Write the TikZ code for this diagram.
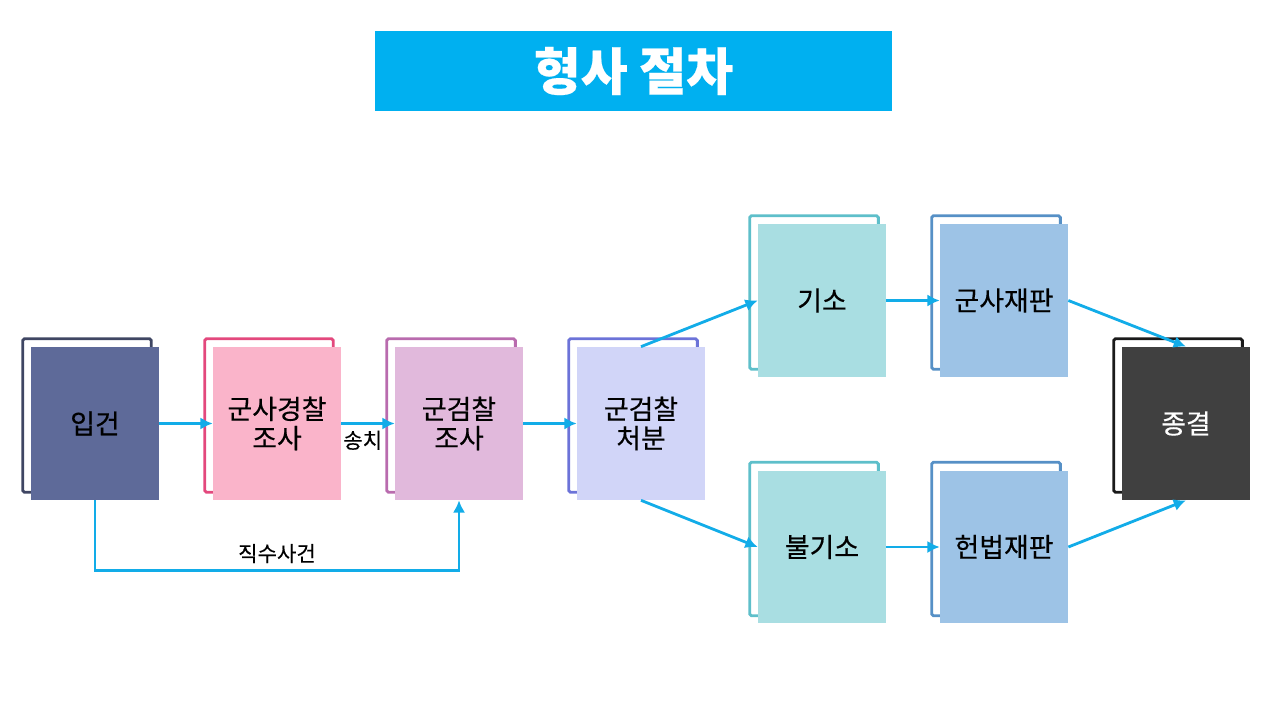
\documentclass[tikz,border=0pt]{standalone}
\usepackage{fontspec}
\setmainfont{Noto Sans CJK KR}[FakeBold=0.4]
\usetikzlibrary{arrows.meta,backgrounds}

\definecolor{titleblue}{HTML}{00B0F0}
\definecolor{flowblue}{HTML}{12ACE8}
\definecolor{ipfill}{HTML}{5E6A99}
\definecolor{ipline}{HTML}{3F4663}
\definecolor{pofill}{HTML}{FAB4CA}
\definecolor{poline}{HTML}{E3487D}
\definecolor{prfill}{HTML}{E1B9DC}
\definecolor{prline}{HTML}{B96BAE}
\definecolor{defill}{HTML}{D1D5F8}
\definecolor{deline}{HTML}{6C73D8}
\definecolor{infill}{HTML}{A9DEE2}
\definecolor{inline}{HTML}{5EBFCA}
\definecolor{trfill}{HTML}{9DC3E6}
\definecolor{trline}{HTML}{5690C6}
\definecolor{enfill}{HTML}{404040}
\definecolor{enline}{HTML}{1A1A1A}

\begin{document}
\begin{tikzpicture}[x=0.02cm,y=-0.02cm,
	every node/.style={font=\fontsize{15.3}{16.6}\selectfont},
	card/.style={minimum width=2.56cm,minimum height=3.06cm,inner sep=0pt,align=center},
	frame/.style={line width=1.6pt,rounded corners=1pt,fill=white},
	flow/.style={line width=1.6pt,draw=flowblue,-{Latex[length=7pt,width=7pt]}},
	note/.style={font=\fontsize{12}{14}\selectfont}]
	\useasboundingbox (0,0) rectangle (1270,709);
	\node[fill=titleblue,minimum width=10.34cm,minimum height=1.6cm,text=white,
		font=\fontsize{29}{32}\selectfont\bfseries] (title) at (633.5,71) {형사 절차};
	
	\node[card,fill=ipfill] (ipgeon) at (95,423.5) {입건};
	\node[card,fill=pofill] (police) at (277,423.5) {군사경찰\\조사};
	\node[card,fill=prfill] (prosinv) at (459,423.5) {군검찰\\조사};
	\node[card,fill=defill] (decision) at (641,423.5) {군검찰\\처분};
	\node[card,fill=infill] (indict) at (822,300.5) {기소};
	\node[card,fill=trfill] (mtrial) at (1004,300.5) {군사재판};
	\node[card,fill=infill] (noindict) at (822,547) {불기소};
	\node[card,fill=trfill] (ctrial) at (1004,547) {헌법재판};
	\node[card,fill=enfill,text=white] (closing) at (1186,423.5) {종결};
	
	\begin{scope}[on background layer]
		\foreach \n/\c in {ipgeon/ipline,police/poline,prosinv/prline,decision/deline,
			indict/inline,mtrial/trline,noindict/inline,ctrial/trline,closing/enline}
			\draw[frame,draw=\c] ([shift={(-8,-8)}]\n.north west) rectangle ([shift={(-8,-8)}]\n.south east);
	\end{scope}
	
	\draw[flow] (ipgeon) -- (police);
	\draw[flow] (police) -- node[note,below,pos=0.4] {송치} (prosinv);
	\draw[flow] (prosinv) -- (decision);
	\draw[flow] (decision.north) -- (indict.west);
	\draw[flow] (decision.south) -- (noindict.west);
	\draw[flow] (indict) -- (mtrial);
	\draw[flow] (noindict) -- (ctrial);
	\draw[flow] (mtrial.east) -- (closing.north);
	\draw[flow] (ctrial.east) -- (closing.south);
	\draw[flow] (ipgeon.south) -- ++(0,70) -| node[note,above,pos=0.25] {직수사건} (prosinv.south);
\end{tikzpicture}
\end{document}
